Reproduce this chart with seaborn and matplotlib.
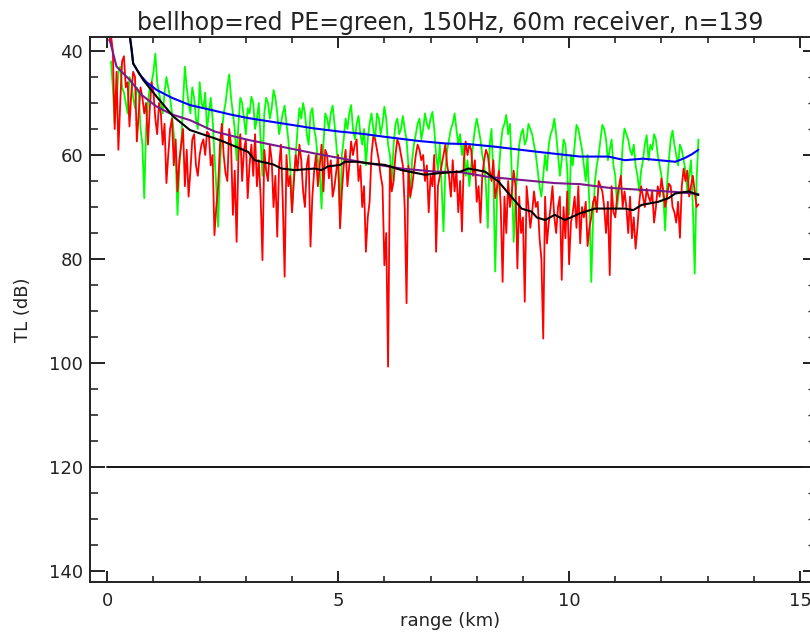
import numpy as np
import pandas as pd
import matplotlib
matplotlib.use("Agg")
import matplotlib.pyplot as plt
import seaborn as sns
from matplotlib.ticker import MultipleLocator

# ---------------- data ----------------
step_km = 0.04  # sampling of the noisy TL curves (range = step * 1..N)

tl_bellhop = [  # red curve
    38, 37, 40, 55, 44, 59, 50, 42, 41, 47, 46, 54.5, 48, 44, 45, 57.4, 52, 47, 49, 52,
    50, 58, 51, 46, 48, 53, 56, 50, 52, 58, 54, 65.4, 60, 55, 53, 62, 57, 67, 61, 58,
    55, 66, 59, 68, 63, 57, 56, 62, 64, 60, 58, 57, 60, 55.5, 56, 62, 60, 75.4, 70, 66,
    58, 54, 60, 63.5, 65, 55, 58, 71.5, 63, 76.7, 60, 56, 65, 59, 57, 68.3, 62, 58, 64, 56,
    66, 61, 68, 80.2, 59, 63, 65, 58, 61, 70, 64, 75.7, 62, 58, 69, 83.4, 60, 66, 64, 71,
    65, 60, 63, 58, 61, 67, 70, 62, 60, 77.6, 68, 63, 60, 66, 62, 58, 67, 59, 60, 64.5,
    61, 68, 66, 63, 60, 74.1, 67, 62, 59, 66, 62, 57.4, 60, 58, 57, 65, 62, 70, 66, 78.6,
    72, 69, 60, 56.5, 57, 59, 61, 64, 66, 81.2, 75, 100.7, 62, 67, 65, 60, 57, 58, 60, 62,
    70, 88.5, 62, 68, 66, 63, 60, 58, 59, 61, 60, 65, 62, 71, 64, 66, 60, 78.6, 66, 64,
    62, 60, 58, 62, 64, 68, 61, 67, 63, 71, 65, 74.7, 61, 57.4, 60, 58, 59, 64, 61, 69,
    66, 73, 64, 61, 59, 60, 63, 65, 61, 68.3, 66, 63, 70, 84.4, 68, 75, 65, 70, 67, 63,
    66, 81.8, 68, 75, 72, 88.2, 66, 70, 74, 71, 67, 70, 69, 76, 80, 95.3, 68, 77, 73, 70,
    66, 72, 75, 70, 68, 84, 70, 76, 67, 81, 73, 71, 68, 74, 66, 77, 70, 72, 69, 77.5,
    74, 72, 69, 68, 71, 65, 66, 67, 70, 75, 69, 83.1, 66, 71, 72, 68, 66, 64, 70, 67,
    70, 75, 68, 76, 72, 78, 74, 69, 66, 68, 70, 66.5, 68, 69, 67, 73, 70, 66, 68, 64.5,
    67, 70, 68, 65.5, 66, 70, 71, 73, 69, 75.9, 66, 62.6, 65, 63, 68, 66, 64, 67, 70, 69.5,
]

tl_pe = [  # green curve
    np.nan, 42, 47, 54, 50, 44, 43, 47, 48, 50, 52, 45, 46, 49, 51, 47, 48, 55, 58, 68.3,
    55, 50, 47, 46, 44, 40.5, 46, 48, 50, 52, 48, 45, 47, 49, 52, 56, 60, 71.5, 62, 58,
    50, 43, 47, 50, 52, 47, 49, 53, 55, 46, 50, 51, 48, 55, 52, 49, 53, 60, 66, 73.8,
    62, 56, 52, 50, 47, 44.5, 49, 52, 55, 61, 54, 49, 50, 53, 56, 51, 52, 48.8, 50, 55,
    53, 50, 57, 64, 52, 49, 50, 53, 51, 47.5, 49, 52, 56, 54, 52, 50.5, 54, 57, 62, 71,
    64, 60, 55, 51, 53, 50, 52, 56, 58, 52, 51, 55, 57, 61, 63, 70.3, 58, 52, 53, 55,
    52, 50.5, 54, 58, 63, 72, 60, 57, 53, 55, 52, 50.4, 55, 57, 54, 52.5, 56, 58, 55, 62,
    57, 54, 52, 55, 57, 52, 53, 56, 54, 50.7, 53, 58, 60, 65, 58, 54, 53, 56, 55, 52.5,
    55, 57, 62, 68.3, 61, 58, 56, 54, 53, 57, 55, 52, 54, 55, 53, 51.7, 55, 60, 63, 58,
    66, 74.7, 63, 59, 57, 55, 54, 52, 55, 58, 56, 60, 58, 64, 61, 66, 62, 58, 55, 53,
    55, 57, 60, 62, 66, 74, 58, 55, 64, 82.4, 68, 63, 58, 55, 54, 52.3, 56, 54, 64, 76.7,
    68, 63, 58, 56, 55, 58, 57, 54, 55, 56, 58, 60, 63, 66, 68, 64, 60, 63, 58, 56,
    55, 53, 56, 60, 64, 61, 57, 58, 63, 71.5, 60, 62, 58, 54.2, 55, 57, 59, 62, 65, 60,
    70, 84.4, 72, 65, 62, 60, 57, 54.2, 55, 57, 61, 59, 57, 62, 64, 70, 67, 65, 58, 54.9,
    56, 57, 59, 60, 58, 62, 64, 67, 63, 61, 58, 56.2, 61, 58, 59, 56, 57, 60, 62, 64,
    68, 74.5, 66, 61, 57, 55.3, 58, 60, 62, 58, 59, 61, 63, 67, 64, 61, 70, 82.8, 65, 57,
]

blue_range = [0.49, 0.56, 0.70, 0.85, 1.07, 1.40, 1.79, 2.33, 2.66, 3.05, 3.77,
              4.49, 5.04, 5.50, 6.01, 6.74, 7.35, 7.82, 8.39, 9.33, 10.24,
              10.85, 11.21, 11.60, 12.30, 12.50, 12.65, 12.80]
blue_tl = [37.3, 42.4, 44.5, 46.0, 47.5, 49.0, 50.4, 51.5, 52.2, 52.9, 53.9,
           54.9, 55.5, 55.9, 56.5, 57.3, 57.8, 57.9, 58.4, 59.4, 60.3,
           60.3, 61.0, 60.7, 61.3, 60.6, 59.9, 59.0]

purple_range = [0.05, 0.20, 0.49, 0.75, 1.07, 1.40, 1.79, 2.33, 3.05, 3.77, 4.49,
                5.04, 5.65, 6.37, 7.10, 7.64, 8.25, 8.97, 9.69, 10.24, 10.85,
                11.57, 12.30, 12.80]
purple_tl = [37.8, 43.0, 45.6, 48.5, 50.7, 52.2, 53.3, 55.5, 57.1, 58.4, 59.7,
             60.6, 61.6, 62.6, 63.2, 63.3, 64.2, 64.8, 65.4, 65.6, 66.3,
             66.7, 67.1, 67.5]

black_range = [0.49, 0.53, 0.56, 0.78, 1.07, 1.43, 1.79, 2.33, 2.51, 3.05, 3.19,
               3.59, 3.77, 4.06, 4.49, 4.64, 4.78, 5.04, 5.15, 5.40, 5.65, 6.01,
               6.37, 6.88, 7.17, 7.64, 7.82, 8.18, 8.47, 8.69, 8.97, 9.19, 9.30,
               9.48, 9.69, 9.91, 10.24, 10.56, 10.85, 11.21, 11.39, 11.57, 11.93,
               12.15, 12.30, 12.59, 12.80]
black_tl = [37.3, 39.8, 42.4, 45.6, 48.8, 52.6, 55.2, 56.8, 57.4, 59.4, 61.0,
            61.8, 62.6, 62.9, 62.6, 62.9, 62.2, 61.9, 61.3, 61.3, 61.6, 61.9,
            62.9, 63.8, 63.5, 63.2, 62.6, 63.2, 65.1, 67.4, 70.3, 70.9, 72.0,
            72.5, 71.5, 72.5, 71.2, 70.3, 70.3, 70.3, 70.6, 69.6, 69.0,
            68.3, 67.4, 67.0, 67.7]

ref_level = 120.0
title_text = "bellhop=red PE=green, 150Hz, 60m receiver, n=139"

# ---------------- figure ----------------
sns.set_theme(style="white")
plt.rcParams["font.family"] = ["DejaVu Sans"]

W, H = 810, 639
fig = plt.figure(figsize=(W / 100, H / 100), dpi=100)
ax = fig.add_axes([90 / W, (H - 582) / H, (811 - 90) / W, (582 - 37) / H])

rng_grid = step_km * np.arange(1, len(tl_bellhop) + 1)
df_noisy = pd.DataFrame({"range": rng_grid, "bellhop": tl_bellhop, "pe": tl_pe})

sns.lineplot(data=df_noisy.dropna(subset=["pe"]), x="range", y="pe", ax=ax,
             color="#00ff00", lw=1.3, sort=False, estimator=None)
sns.lineplot(data=df_noisy, x="range", y="bellhop", ax=ax, color="#ff0000",
             lw=1.3, sort=False, estimator=None)
sns.lineplot(x=blue_range, y=blue_tl, ax=ax, color="#0000ff", lw=1.5,
             sort=False, estimator=None)
sns.lineplot(x=purple_range, y=purple_tl, ax=ax, color="#7a1a8a", lw=1.5,
             sort=False, estimator=None)
sns.lineplot(x=black_range, y=black_tl, ax=ax, color="black", lw=1.5,
             sort=False, estimator=None)
ax.plot([0, 15.3], [ref_level, ref_level], color="black", lw=1.3)

x_left = (90 - 107.3) / 46.18
x_right = (811 - 107.3) / 46.18
ax.set_xlim(x_left, x_right)
ax.set_ylim(142.1, 37.31)

ax.xaxis.set_major_locator(MultipleLocator(5))
ax.xaxis.set_minor_locator(MultipleLocator(1))
ax.yaxis.set_major_locator(MultipleLocator(20))
ax.yaxis.set_minor_locator(MultipleLocator(5))

for s in ax.spines.values():
    s.set_color("#222222")
    s.set_linewidth(1.4)

ax.tick_params(axis="x", which="major", direction="in", length=8, width=1.4,
               top=True, bottom=True, labelsize=13, pad=7, colors="#222222")
ax.tick_params(axis="x", which="minor", direction="in", length=4.5, width=1.2,
               top=True, bottom=True)
ax.tick_params(axis="y", which="major", direction="in", length=11, width=1.4,
               left=True, right=False, labelsize=13, pad=5, colors="#222222")
ax.tick_params(axis="y", which="minor", direction="in", length=6, width=1.2,
               left=True, right=False)

# right-hand ticks (shorter, like the reference)
ax2 = ax.twinx()
ax2.set_ylim(ax.get_ylim())
ax2.yaxis.set_major_locator(MultipleLocator(20))
ax2.yaxis.set_minor_locator(MultipleLocator(5))
ax2.tick_params(axis="y", which="major", direction="in", length=6, width=1.4,
                labelright=False, colors="#222222")
ax2.tick_params(axis="y", which="minor", direction="in", length=2, width=1.0,
                labelright=False)
ax2.grid(False)
for s in ax2.spines.values():
    s.set_visible(False)

ax.set_xlabel("range (km)", fontsize=13, color="#222222", labelpad=2)
ax.set_ylabel("TL (dB)", fontsize=13, color="#222222", labelpad=12)
ax.set_title(title_text, fontsize=17, color="#222222", pad=5)
ax.grid(False)

fig.savefig("out.png", dpi=100)
